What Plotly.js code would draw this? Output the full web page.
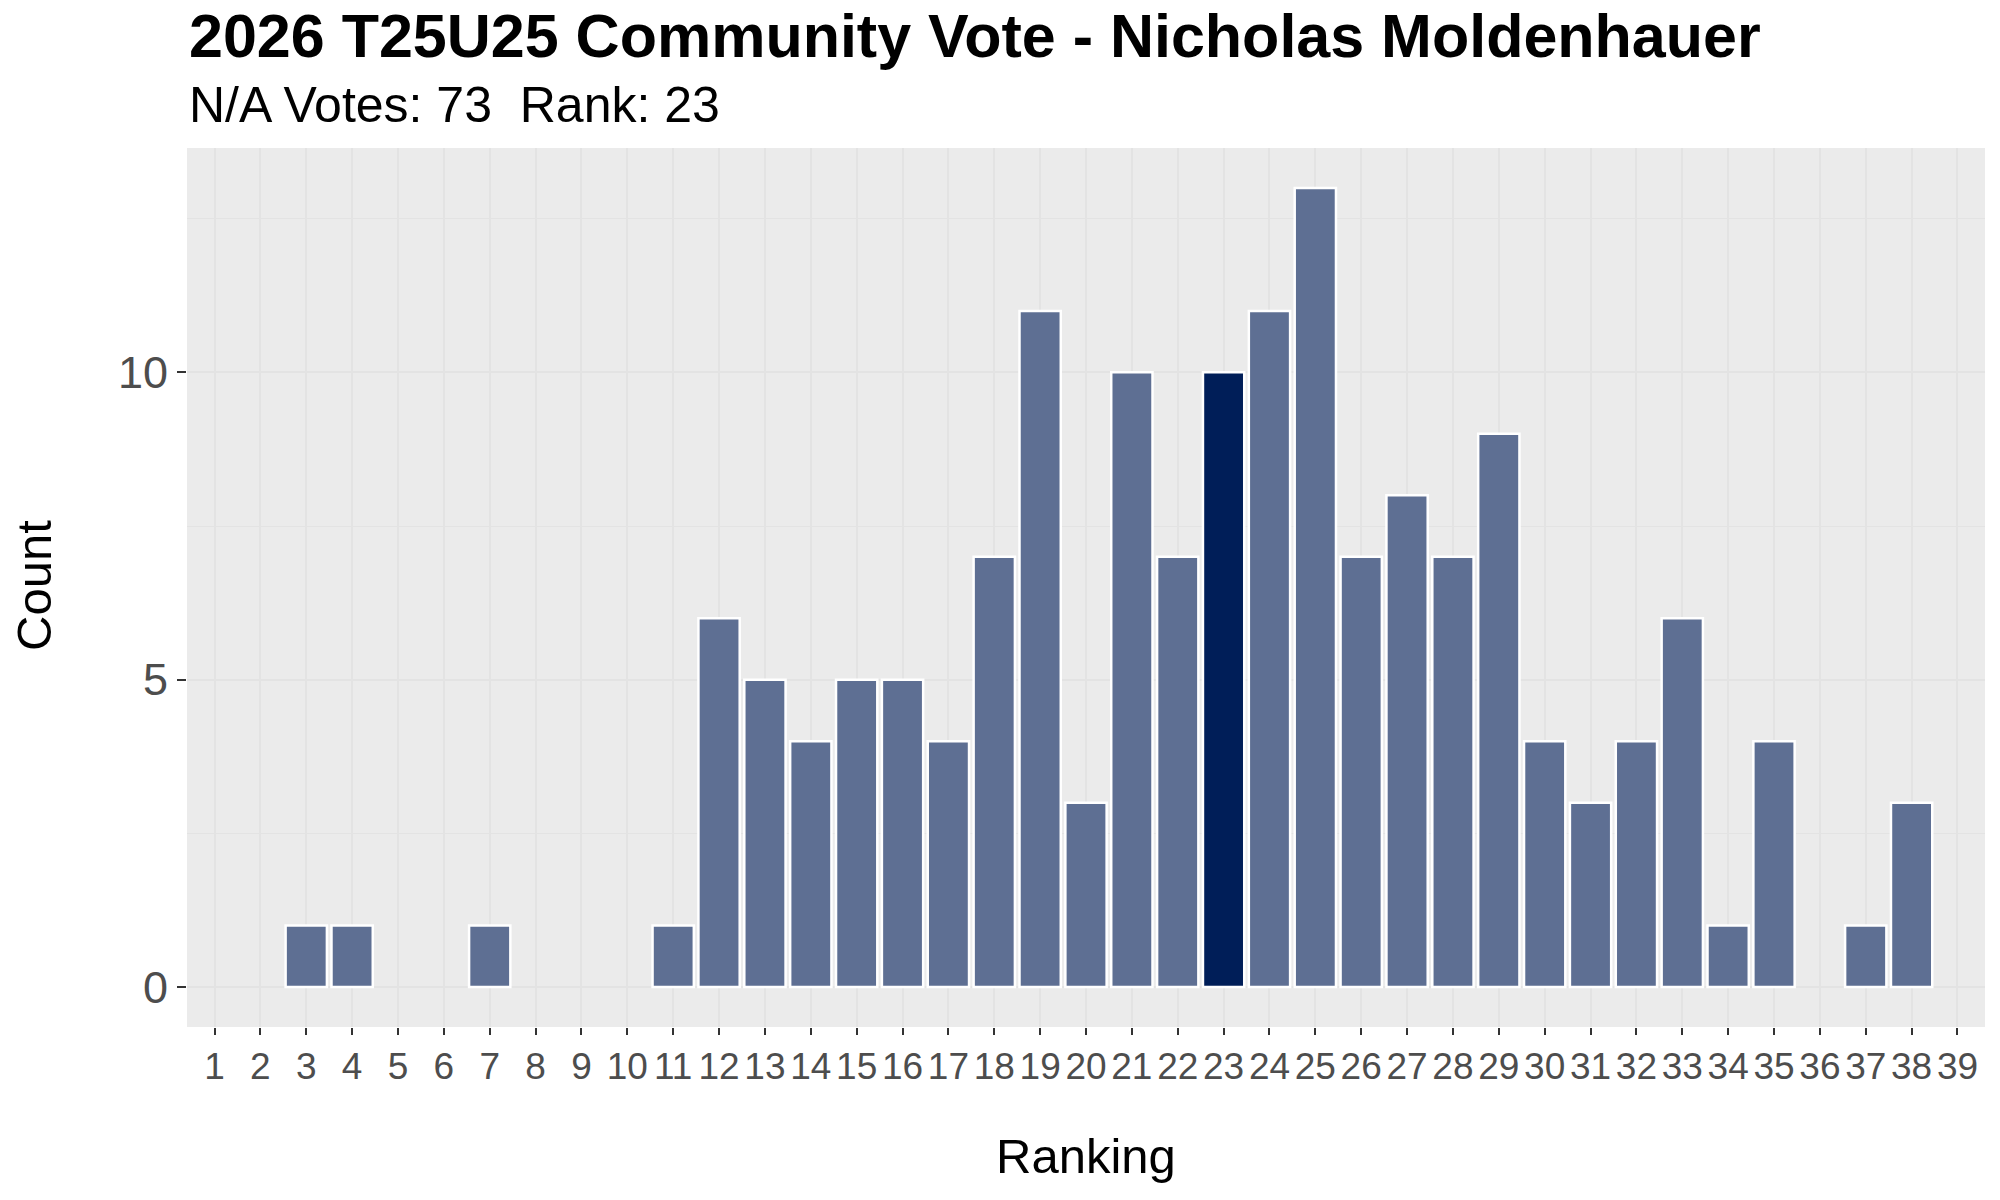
<!DOCTYPE html>
<html>
<head>
<meta charset="utf-8">
<script src="https://cdn.plot.ly/plotly-3.0.1.min.js"></script>
<style>
  html, body { margin: 0; padding: 0; background: #fff; }
  #chart { width: 2000px; height: 1200px; }
</style>
</head>
<body>
<div id="chart"></div>
<script>
// ─── data ───────────────────────────────────────────────────
var rankings = [];
for (var i = 1; i <= 39; i++) rankings.push(i);
var counts = [0, 0, 1, 1, 0, 0, 1, 0, 0, 0,
              1, 6, 5, 4, 5, 5, 4, 7, 11, 3,
              10, 7, 10, 11, 13, 7, 8, 7, 9, 4,
              3, 4, 6, 1, 4, 0, 1, 3, 0];
var playerRank = 23;
var naVotes = 73;
var playerName = 'Nicholas Moldenhauer';

// ─── layout helpers ─────────────────────────────────────────
var W = 2000, H = 1200;
var M = { l: 187, r: 15, t: 148, b: 173 };
var plotW = W - M.l - M.r, plotH = H - M.t - M.b;
function px(x) { return (x - M.l) / plotW; }
function py(y) { return (H - M.b - y) / plotH; }

var FONT = '"Liberation Sans", Arial, Helvetica, sans-serif';
var barColor = '#5E6F93';
var hiColor = '#001E58';
var gridColor = '#E3E3E3';

var colors = rankings.map(function (r) { return r === playerRank ? hiColor : barColor; });
// no outline on empty rankings (ggplot draws nothing there)
var outline = counts.map(function (c) { return c > 0 ? 2.5 : 0; });

var trace = {
  type: 'bar',
  x: rankings,
  y: counts,
  width: 0.9,
  marker: { color: colors, line: { color: '#FFFFFF', width: outline } },
  hoverinfo: 'x+y',
};

var layout = {
  width: W, height: H,
  margin: M,
  paper_bgcolor: '#FFFFFF',
  plot_bgcolor: '#EBEBEB',
  showlegend: false,
  font: { family: FONT, color: '#000' },
  bargap: 0,
  xaxis: {
    range: [0.4, 39.6],
    tickmode: 'array',
    tickvals: rankings,
    ticktext: rankings.map(String),
    showgrid: true, gridcolor: gridColor, gridwidth: 2,
    zeroline: false, showline: false,
    ticks: 'outside', ticklen: 7, tickwidth: 2, tickcolor: '#333333',
    tickfont: { size: 37, color: '#4D4D4D', family: FONT },
    fixedrange: true,
  },
  yaxis: {
    range: [-0.65, 13.65],
    tickmode: 'array',
    tickvals: [0, 5, 10],
    showgrid: true, gridcolor: gridColor, gridwidth: 2,
    minor: { tickvals: [2.5, 7.5, 12.5], showgrid: true, gridcolor: gridColor, gridwidth: 1, ticks: '' },
    zeroline: false, showline: false,
    ticks: 'outside', ticklen: 9, tickwidth: 2, tickcolor: '#333333',
    tickfont: { size: 45, color: '#4D4D4D', family: FONT },
    fixedrange: true,
  },
  annotations: [
    { // title
      text: '<b>2026 T25U25 Community Vote - ' + playerName + '</b>',
      xref: 'paper', yref: 'paper', x: px(187), y: py(36),
      xanchor: 'left', yanchor: 'middle', showarrow: false,
      font: { size: 61, color: '#000', family: FONT },
    },
    { // subtitle
      text: 'N/A Votes: ' + naVotes + '\u00a0\u00a0Rank: ' + playerRank,
      xref: 'paper', yref: 'paper', x: px(187), y: py(105),
      xanchor: 'left', yanchor: 'middle', showarrow: false,
      font: { size: 50, color: '#000', family: FONT },
    },
    { // x axis title
      text: 'Ranking',
      xref: 'paper', yref: 'paper', x: 0.5, y: py(1156),
      xanchor: 'center', yanchor: 'middle', showarrow: false,
      font: { size: 49, color: '#000', family: FONT },
    },
    { // y axis title
      text: 'Count', textangle: -90,
      xref: 'paper', yref: 'paper', x: px(34), y: py(586),
      xanchor: 'center', yanchor: 'middle', showarrow: false,
      font: { size: 49, color: '#000', family: FONT },
    },
  ],
};

Plotly.newPlot('chart', [trace], layout, { displayModeBar: false, staticPlot: true });
</script>
</body>
</html>
